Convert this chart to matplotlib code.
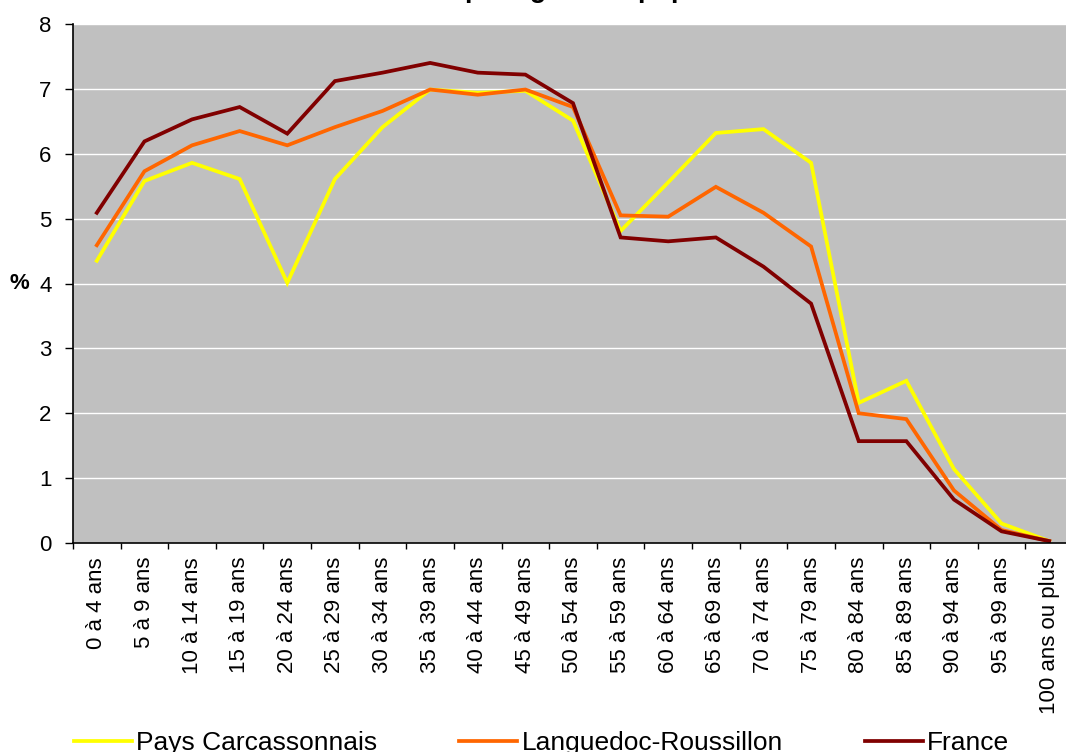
import matplotlib.pyplot as plt

plt.rcParams['font.family'] = ['Liberation Sans', 'DejaVu Sans']

categories = ['0 à 4 ans', '5 à 9 ans', '10 à 14 ans', '15 à 19 ans', '20 à 24 ans',
              '25 à 29 ans', '30 à 34 ans', '35 à 39 ans', '40 à 44 ans', '45 à 49 ans',
              '50 à 54 ans', '55 à 59 ans', '60 à 64 ans', '65 à 69 ans', '70 à 74 ans',
              '75 à 79 ans', '80 à 84 ans', '85 à 89 ans', '90 à 94 ans', '95 à 99 ans',
              '100 ans ou plus']

carcassonnais = [4.35, 5.58, 5.86, 5.61, 4.01, 5.61, 6.41, 6.99, 6.94, 6.97,
                 6.51, 4.81, 5.56, 6.32, 6.38, 5.86, 2.16, 2.50, 1.14, 0.30, 0.03]
languedoc = [4.59, 5.73, 6.13, 6.35, 6.13, 6.41, 6.66, 6.99, 6.91, 6.99,
             6.72, 5.05, 5.03, 5.49, 5.09, 4.57, 2.00, 1.91, 0.81, 0.20, 0.03]
france = [5.09, 6.19, 6.53, 6.72, 6.31, 7.12, 7.25, 7.40, 7.25, 7.22,
          6.78, 4.71, 4.65, 4.71, 4.26, 3.69, 1.57, 1.57, 0.67, 0.18, 0.03]

series_names = ['Pays Carcassonnais', 'Languedoc-Roussillon', 'France']
colors = ['#FFFF00', '#FF6600', '#800000']

W, H = 1066, 752
fig = plt.figure(figsize=(W / 100, H / 100), dpi=100)
ax = fig.add_axes([73 / W, (H - 543) / H, 1000 / W, 519 / H])
ax.set_facecolor('#C0C0C0')

x = list(range(len(categories)))
for vals, name, c in zip([carcassonnais, languedoc, france], series_names, colors):
    ax.plot(x, vals, color=c, lw=2.7, label=name, solid_joinstyle='miter')

ax.set_xlim(-0.5, len(categories) - 0.5)
ax.set_ylim(0, 8)
ax.set_yticks(range(0, 9))
ax.yaxis.grid(True, color='white', lw=1)
ax.set_axisbelow(True)

ax.set_xticks(x)
ax.set_xticklabels(categories, rotation=90, fontsize=16)
ax.set_xticks([i - 0.5 for i in range(len(categories) + 1)], minor=True)
ax.tick_params(axis='x', which='major', length=0, pad=10)
ax.tick_params(axis='x', which='minor', length=4.5, width=1, color='black')
ax.tick_params(axis='y', length=6, width=1, labelsize=16, pad=9.5)

for s in ['top', 'right']:
    ax.spines[s].set_visible(False)
ax.spines['left'].set_linewidth(1.2)
ax.spines['bottom'].set_linewidth(1.2)

ax.set_ylabel('%', rotation=0, fontsize=16, fontweight='bold', labelpad=14, va='center')

fig.text(337 / W, 1 + 3 / H, 'Structure par âge de la population',
         fontsize=19.5, fontweight='bold', ha='left', va='baseline')

fig.legend(loc='upper left', bbox_to_anchor=(74 / W, 1 - 731 / H), ncol=3,
           frameon=False, fontsize=19, handlelength=2.2, handletextpad=0.16,
           columnspacing=3.1, borderaxespad=0, borderpad=0)

fig.savefig('out.png', dpi=100)
